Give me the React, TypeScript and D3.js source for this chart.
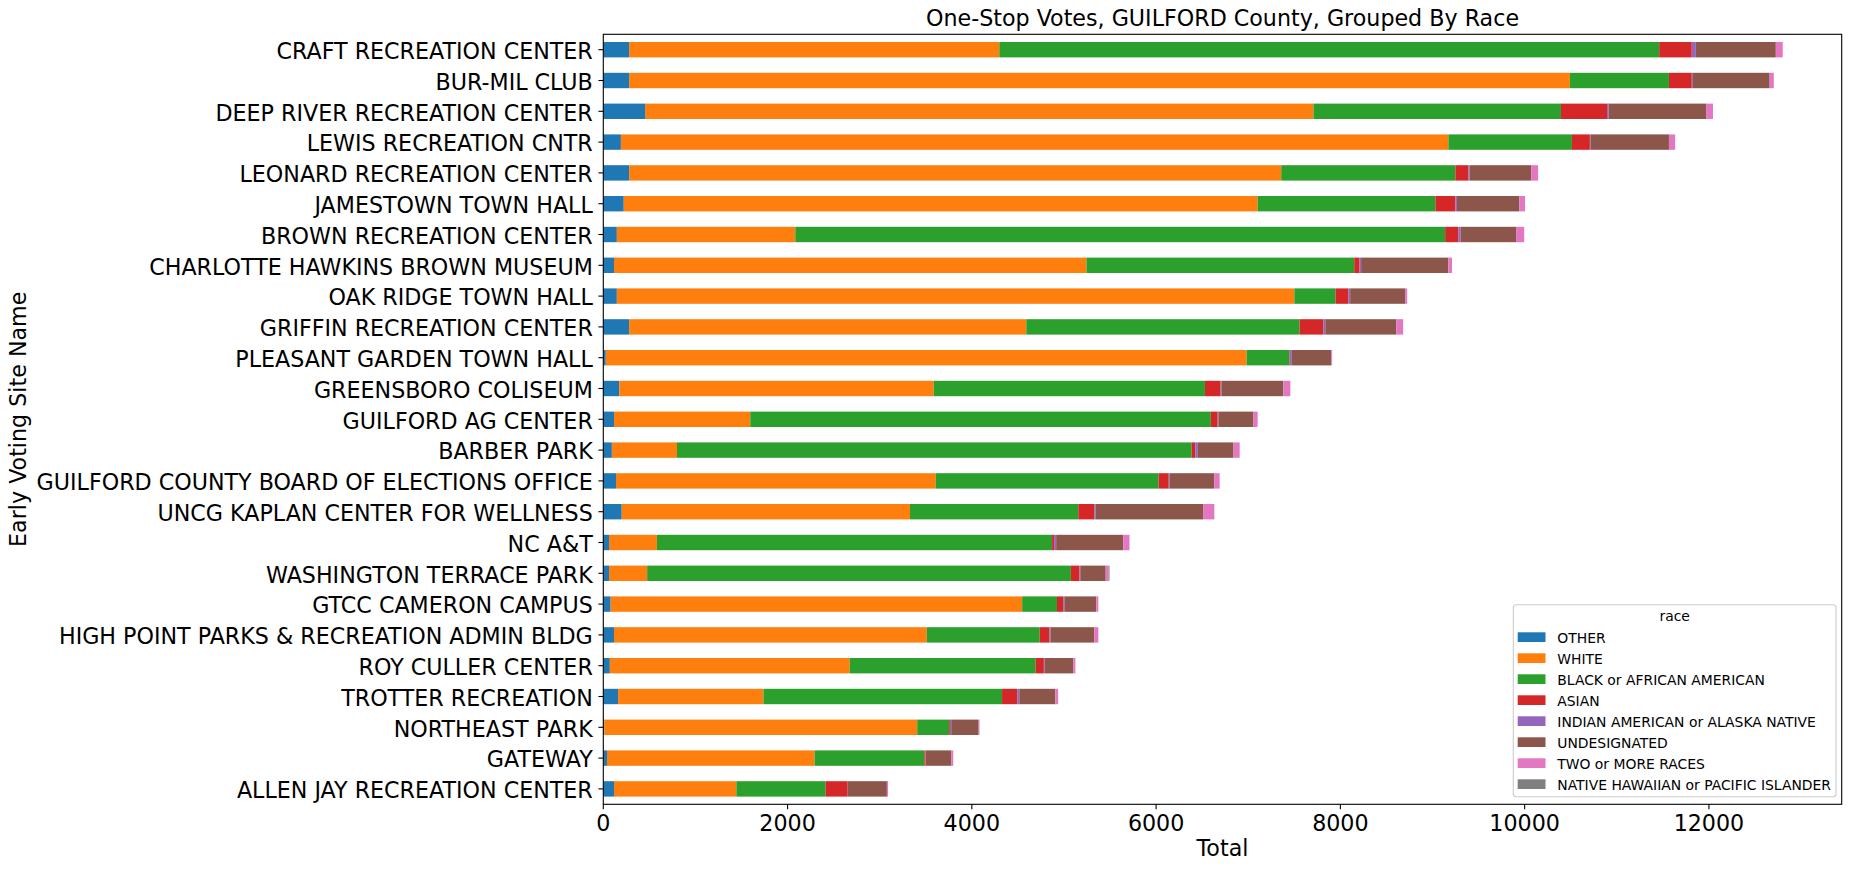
import React from "react";
import * as d3 from "d3";

const sites = [
  "CRAFT RECREATION CENTER",
  "BUR-MIL CLUB",
  "DEEP RIVER RECREATION CENTER",
  "LEWIS RECREATION CNTR",
  "LEONARD RECREATION CENTER",
  "JAMESTOWN TOWN HALL",
  "BROWN RECREATION CENTER",
  "CHARLOTTE HAWKINS BROWN MUSEUM",
  "OAK RIDGE TOWN HALL",
  "GRIFFIN RECREATION CENTER",
  "PLEASANT GARDEN TOWN HALL",
  "GREENSBORO COLISEUM",
  "GUILFORD AG CENTER",
  "BARBER PARK",
  "GUILFORD COUNTY BOARD OF ELECTIONS OFFICE",
  "UNCG KAPLAN CENTER FOR WELLNESS",
  "NC A&T",
  "WASHINGTON TERRACE PARK",
  "GTCC CAMERON CAMPUS",
  "HIGH POINT PARKS & RECREATION ADMIN BLDG",
  "ROY CULLER CENTER",
  "TROTTER RECREATION",
  "NORTHEAST PARK",
  "GATEWAY",
  "ALLEN JAY RECREATION CENTER",
];

const races = [
  "OTHER",
  "WHITE",
  "BLACK or AFRICAN AMERICAN",
  "ASIAN",
  "INDIAN AMERICAN or ALASKA NATIVE",
  "UNDESIGNATED",
  "TWO or MORE RACES",
  "NATIVE HAWAIIAN or PACIFIC ISLANDER",
];

const other = [280, 280, 453, 191, 280, 222, 147, 116, 147, 280, 27, 173, 116, 93, 138, 200, 62, 62, 80, 116, 71, 160, 12, 40, 116];
const white = [4018, 10211, 7255, 8981, 7078, 6880, 1937, 5128, 7353, 4311, 6955, 3413, 1479, 707, 3471, 3129, 520, 414, 4466, 3395, 2604, 1578, 3395, 2253, 1328];
const black = [7162, 1075, 2686, 1341, 1890, 1929, 7053, 2906, 447, 2966, 465, 2944, 4999, 5586, 2417, 1826, 4289, 4599, 378, 1226, 2018, 2590, 347, 1191, 969];
const asian = [354, 248, 500, 195, 141, 217, 142, 58, 141, 257, 5, 170, 74, 40, 111, 173, 22, 93, 67, 103, 89, 165, 9, 14, 240];
const indian = [44, 12, 17, 9, 14, 17, 26, 17, 18, 22, 21, 9, 9, 27, 9, 14, 22, 9, 13, 13, 9, 22, 13, 3, 3];
const undesignated = [868, 833, 1058, 849, 668, 677, 602, 947, 597, 770, 429, 672, 380, 387, 486, 1168, 729, 276, 347, 475, 311, 391, 298, 275, 422];
const twoOrMore = [75, 45, 75, 67, 75, 62, 88, 40, 22, 75, 9, 76, 45, 67, 58, 122, 67, 31, 22, 45, 22, 31, 9, 22, 13];
const hawaiian = [0, 0, 0, 0, 0, 0, 0, 0, 0, 0, 0, 0, 0, 0, 0, 0, 0, 10, 0, 0, 0, 0, 0, 0, 0];

const xTicks = [0, 2000, 4000, 6000, 8000, 10000, 12000];

const colors = ["#1f77b4", "#ff7f0e", "#2ca02c", "#d62728", "#9467bd", "#8c564b", "#e377c2", "#7f7f7f"];

const W = 1852;
const H = 869;
const left = 603.3;
const right = 1841.7;
const top = 34.3;
const bottom = 804.3;
const FONT = "'DejaVu Sans', sans-serif";

export default function App() {
  const seriesValues = [other, white, black, asian, indian, undesignated, twoOrMore, hawaiian];
  const rows = sites.map((s, i) => {
    const r: any = { site: s };
    races.forEach((k, j) => (r[k] = seriesValues[j][i]));
    return r;
  });
  const stacked = d3.stack().keys(races)(rows);
  const maxTotal = d3.max(rows, (r: any) => races.reduce((a, k) => a + r[k], 0)) as number;

  const x = d3.scaleLinear().domain([0, maxTotal * 1.05]).range([left, right]);
  const y = d3.scaleBand().domain(sites).range([top, bottom]).paddingInner(0.5).paddingOuter(0.25);
  const step = y.step();

  const legendLeft = 1513.3;
  const legendTop = 604.7;

  return (
    <svg width={W} height={H} style={{ position: "absolute", left: 0, top: 0, background: "#fff" }} fontFamily={FONT}>
      <rect x={0} y={0} width={W} height={H} fill="#fff" />
      {stacked.map((layer: any, li: number) => (
        <g key={races[li]} fill={colors[li]}>
          {layer.map((d: any, i: number) => (
            <rect
              key={i}
              x={x(d[0])}
              y={y(sites[i])}
              width={Math.max(0, x(d[1]) - x(d[0]))}
              height={y.bandwidth()}
            />
          ))}
        </g>
      ))}
      {/* spines */}
      <rect x={left} y={top} width={right - left} height={bottom - top} fill="none" stroke="#000" strokeWidth={1.1} />
      {/* x ticks */}
      {xTicks.map((t) => (
        <g key={t}>
          <line x1={x(t)} x2={x(t)} y1={bottom} y2={bottom + 4.9} stroke="#000" strokeWidth={1.1} />
          <text x={x(t)} y={831} textAnchor="middle" fontSize={22.2} fill="#000">
            {t}
          </text>
        </g>
      ))}
      {/* y ticks */}
      {sites.map((s) => {
        const cy = (y(s) as number) + y.bandwidth() / 2;
        return (
          <g key={s}>
            <line x1={left - 4.9} x2={left} y1={cy} y2={cy} stroke="#000" strokeWidth={1.1} />
            <text x={left - 10.5} y={cy + 9.3} textAnchor="end" fontSize={22.2} fill="#000">
              {s}
            </text>
          </g>
        );
      })}
      {/* title and axis labels */}
      <text x={(left + right) / 2} y={26} textAnchor="middle" fontSize={22.2} fill="#000">
        One-Stop Votes, GUILFORD County, Grouped By Race
      </text>
      <text x={(left + right) / 2} y={856} textAnchor="middle" fontSize={22.2} fill="#000">
        Total
      </text>
      <text
        transform={`translate(25.5, ${(top + bottom) / 2}) rotate(-90)`}
        textAnchor="middle"
        fontSize={22.2}
        fill="#000"
      >
        Early Voting Site Name
      </text>
      {/* legend */}
      <rect
        x={legendLeft}
        y={legendTop}
        width={1836 - legendLeft}
        height={796.7 - legendTop}
        rx={3}
        fill="#fff"
        fillOpacity={0.8}
        stroke="#cccccc"
        strokeWidth={1.1}
      />
      <text x={(legendLeft + 1836) / 2} y={620.7} textAnchor="middle" fontSize={13.9} fill="#000">
        race
      </text>
      {races.map((r, i) => (
        <g key={r}>
          <rect x={1517.7} y={632.3 + i * 21} width={27.8} height={9.7} fill={colors[i]} />
          <text x={1557.3} y={642.7 + i * 21} fontSize={13.9} fill="#000">
            {r}
          </text>
        </g>
      ))}
    </svg>
  );
}
